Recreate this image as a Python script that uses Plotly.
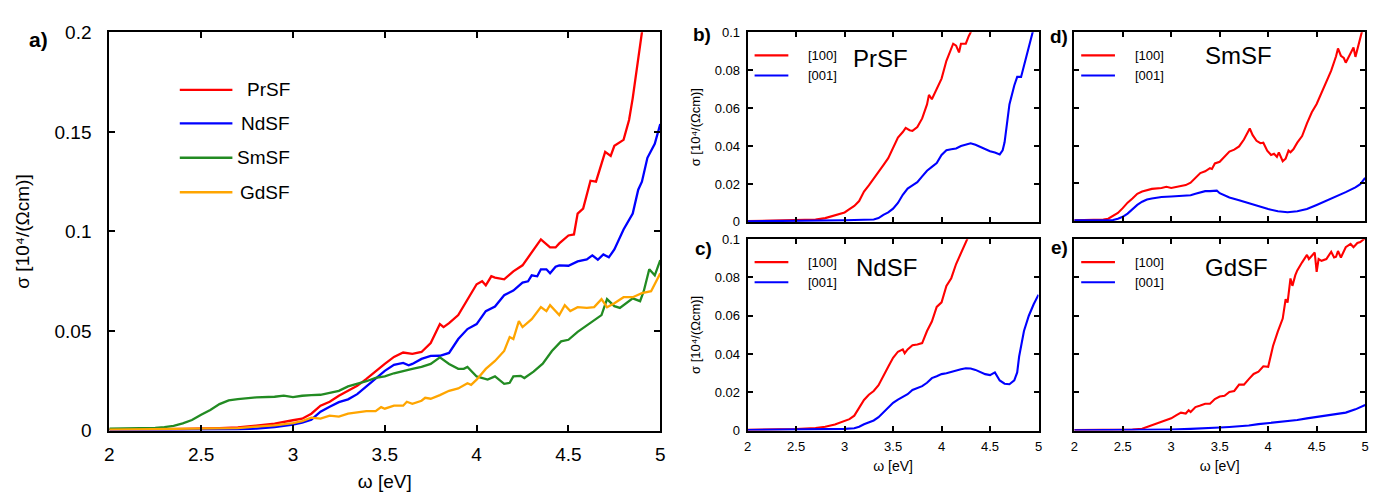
import plotly.graph_objects as go

W, H = 1381, 492

# ---------------- data ----------------
x_tick_vals = [2, 2.5, 3, 3.5, 4, 4.5, 5]
x_tick_text = ["2", "2.5", "3", "3.5", "4", "4.5", "5"]
ya_tick_vals = [0, 0.05, 0.1, 0.15, 0.2]
ya_tick_text = ["0", "0.05", "0.1", "0.15", "0.2"]
yr_tick_vals = [0, 0.02, 0.04, 0.06, 0.08, 0.1]
yr_tick_text = ["0", "0.02", "0.04", "0.06", "0.08", "0.1"]

compounds = ["PrSF", "NdSF", "SmSF", "GdSF"]
directions = ["[100]", "[001]"]
panel_letters = ["a)", "b)", "c)", "d)", "e)"]
y_title_text = "σ [10⁴/(Ωcm)]"
x_title_text = "ω [eV]"

prsf_x = [2.0, 2.2, 2.4, 2.6, 2.7, 2.8, 2.9, 3.0, 3.05, 3.1, 3.15, 3.2, 3.25, 3.3, 3.35, 3.4, 3.45, 3.5, 3.55, 3.6,
          3.65, 3.7, 3.75, 3.8, 3.82, 3.85, 3.9, 3.95, 4.0, 4.03, 4.05, 4.08, 4.1, 4.15, 4.2, 4.25, 4.3, 4.35, 4.4,
          4.43, 4.45, 4.5, 4.53, 4.55, 4.58, 4.6, 4.62, 4.65, 4.68, 4.7, 4.73, 4.75, 4.8, 4.83, 4.85, 4.88, 4.9, 4.95]
prsf_y = [0.0005, 0.0006, 0.0008, 0.0012, 0.0016, 0.0025, 0.0035, 0.0052, 0.006, 0.0085, 0.0125, 0.0145, 0.0175,
          0.020, 0.0225, 0.026, 0.030, 0.0335, 0.037, 0.0392, 0.0385, 0.0395, 0.044, 0.0535, 0.052, 0.054, 0.058,
          0.066, 0.0735, 0.075, 0.073, 0.0775, 0.0768, 0.076, 0.080, 0.083, 0.0895, 0.096, 0.092, 0.092, 0.094,
          0.098, 0.0985, 0.109, 0.1115, 0.118, 0.1255, 0.125, 0.1335, 0.140, 0.138, 0.143, 0.146, 0.156, 0.167,
          0.186, 0.200, 0.26]

ndsf_x = [2.0, 2.4, 2.7, 2.8, 2.9, 3.0, 3.05, 3.1, 3.15, 3.2, 3.25, 3.3, 3.35, 3.4, 3.45, 3.5, 3.55, 3.6, 3.63,
          3.65, 3.7, 3.75, 3.8, 3.85, 3.9, 3.95, 4.0, 4.05, 4.1, 4.15, 4.2, 4.25, 4.28, 4.3, 4.33, 4.35, 4.38, 4.4,
          4.43, 4.45, 4.5, 4.55, 4.6, 4.63, 4.66, 4.69, 4.72, 4.75, 4.8, 4.85, 4.88, 4.9, 4.93, 4.97, 5.0]
ndsf_y = [0.0002, 0.0003, 0.0006, 0.001, 0.0018, 0.003, 0.004, 0.0055, 0.0095, 0.012, 0.0143, 0.0157, 0.0183,
          0.0222, 0.026, 0.030, 0.033, 0.034, 0.0328, 0.0335, 0.036, 0.0375, 0.0376, 0.039, 0.046, 0.051, 0.0535,
          0.060, 0.0623, 0.068, 0.0703, 0.0743, 0.075, 0.078, 0.0775, 0.081, 0.081, 0.079, 0.0823, 0.083, 0.0828,
          0.085, 0.086, 0.088, 0.0858, 0.0885, 0.087, 0.091, 0.101, 0.109, 0.121, 0.125, 0.137, 0.144, 0.154]

smsf_x = [2.0, 2.1, 2.2, 2.25, 2.3, 2.35, 2.4, 2.45, 2.5, 2.55, 2.6, 2.65, 2.7, 2.75, 2.8, 2.9, 2.95, 3.0, 3.05,
          3.1, 3.15, 3.2, 3.25, 3.3, 3.35, 3.4, 3.45, 3.5, 3.55, 3.6, 3.65, 3.7, 3.75, 3.8, 3.83, 3.85, 3.9, 3.93,
          3.95, 4.0, 4.06, 4.1, 4.15, 4.18, 4.2, 4.24, 4.26, 4.31, 4.36, 4.41, 4.46, 4.5, 4.55, 4.6, 4.64, 4.68,
          4.71, 4.75, 4.78, 4.85, 4.89, 4.91, 4.94, 4.97, 5.0]
smsf_y = [0.001, 0.001, 0.0011, 0.0013, 0.0017, 0.0024, 0.0036, 0.0053, 0.008, 0.0104, 0.0133, 0.0152, 0.0158,
          0.0163, 0.0167, 0.017, 0.0176, 0.0168, 0.0175, 0.0178, 0.018, 0.019, 0.020, 0.0222, 0.0235, 0.0248,
          0.0265, 0.0272, 0.0288, 0.030, 0.031, 0.032, 0.0335, 0.0368, 0.035, 0.0335, 0.031, 0.031, 0.032, 0.0272,
          0.0256, 0.0272, 0.0235, 0.024, 0.0272, 0.0275, 0.0264, 0.0296, 0.0336, 0.040, 0.0448, 0.0456, 0.0496,
          0.0528, 0.055, 0.058, 0.066, 0.0625, 0.0616, 0.0664, 0.065, 0.070, 0.081, 0.078, 0.0856]

gdsf_x = [2.0, 2.4, 2.7, 2.8, 2.9, 3.0, 3.05, 3.1, 3.15, 3.2, 3.25, 3.3, 3.35, 3.4, 3.45, 3.48, 3.5, 3.55, 3.6,
          3.62, 3.65, 3.7, 3.72, 3.75, 3.8, 3.85, 3.9, 3.95, 3.97, 4.0, 4.05, 4.1, 4.15, 4.18, 4.2, 4.23, 4.25,
          4.3, 4.35, 4.38, 4.4, 4.45, 4.48, 4.51, 4.55, 4.6, 4.64, 4.68, 4.71, 4.75, 4.8, 4.85, 4.9, 4.95, 5.0]
gdsf_y = [0.0005, 0.0007, 0.0012, 0.002, 0.0026, 0.0038, 0.0048, 0.0065, 0.006, 0.0075, 0.007, 0.0085, 0.009,
          0.0098, 0.0098, 0.0118, 0.011, 0.0125, 0.0125, 0.0145, 0.0135, 0.015, 0.0165, 0.016, 0.0178, 0.020,
          0.0212, 0.0238, 0.023, 0.0256, 0.031, 0.035, 0.040, 0.047, 0.046, 0.055, 0.052, 0.056, 0.062, 0.060,
          0.063, 0.058, 0.063, 0.060, 0.062, 0.0616, 0.062, 0.066, 0.062, 0.064, 0.067, 0.067, 0.069, 0.070, 0.079]

pr100_x = [2.0, 2.3, 2.5, 2.7, 2.8, 2.9, 3.0, 3.05, 3.1, 3.15, 3.2, 3.25, 3.3, 3.35, 3.4, 3.45, 3.5, 3.55, 3.6,
           3.63, 3.67, 3.7, 3.75, 3.8, 3.85, 3.87, 3.9, 3.95, 4.0, 4.05, 4.1, 4.12, 4.15, 4.18, 4.2, 4.25, 4.28,
           4.3, 4.35]
pr100_y = [0.0004, 0.0006, 0.0008, 0.0012, 0.002, 0.0034, 0.005, 0.0067, 0.0084, 0.011, 0.016, 0.0193, 0.0227,
           0.026, 0.030, 0.0336, 0.0395, 0.0445, 0.0474, 0.0496, 0.0484, 0.048, 0.050, 0.0546, 0.062, 0.067,
           0.0647, 0.0706, 0.0756, 0.085, 0.091, 0.094, 0.093, 0.0894, 0.094, 0.094, 0.098, 0.100, 0.112]
pr001_x = [2.0, 2.5, 3.0, 3.3, 3.35, 3.4, 3.45, 3.5, 3.55, 3.6, 3.65, 3.7, 3.75, 3.8, 3.85, 3.9, 3.95, 4.0, 4.05,
           4.1, 4.15, 4.2, 4.25, 4.3, 4.35, 4.4, 4.45, 4.5, 4.55, 4.6, 4.63, 4.65, 4.68, 4.7, 4.75, 4.78, 4.82,
           4.85, 4.9, 4.95, 5.0]
pr001_y = [0.0003, 0.0005, 0.0009, 0.0013, 0.002, 0.0037, 0.005, 0.007, 0.010, 0.0143, 0.0176, 0.0193, 0.021,
           0.024, 0.027, 0.029, 0.031, 0.0353, 0.0378, 0.0383, 0.0387, 0.040, 0.0407, 0.0415, 0.0407, 0.0395,
           0.0383, 0.0373, 0.0366, 0.0356, 0.0378, 0.042, 0.054, 0.062, 0.072, 0.0765, 0.0765, 0.082, 0.0916,
           0.100, 0.112]

nd100_x = [2.0, 2.3, 2.5, 2.7, 2.8, 2.9, 3.0, 3.05, 3.1, 3.15, 3.2, 3.25, 3.3, 3.35, 3.4, 3.45, 3.5, 3.55, 3.6,
           3.62, 3.65, 3.7, 3.75, 3.8, 3.85, 3.9, 3.95, 4.0, 4.05, 4.1, 4.15, 4.2, 4.25, 4.3]
nd100_y = [0.0004, 0.0006, 0.0008, 0.0013, 0.002, 0.0032, 0.0053, 0.006, 0.0078, 0.012, 0.016, 0.0187, 0.0207,
           0.0237, 0.029, 0.0334, 0.038, 0.0412, 0.0424, 0.0404, 0.0424, 0.0446, 0.045, 0.0457, 0.052, 0.057,
           0.0646, 0.067, 0.0755, 0.0796, 0.087, 0.0925, 0.0988, 0.104]
nd001_x = [2.0, 2.5, 3.0, 3.1, 3.15, 3.2, 3.25, 3.3, 3.35, 3.4, 3.45, 3.5, 3.55, 3.6, 3.65, 3.7, 3.75, 3.8, 3.85,
           3.9, 3.95, 4.0, 4.05, 4.1, 4.15, 4.2, 4.25, 4.3, 4.35, 4.4, 4.45, 4.5, 4.55, 4.6, 4.65, 4.7, 4.75,
           4.78, 4.8, 4.85, 4.9, 4.95, 5.0]
nd001_y = [0.0003, 0.0005, 0.0009, 0.0012, 0.002, 0.0033, 0.0045, 0.0053, 0.007, 0.0095, 0.012, 0.0145, 0.0162,
           0.0174, 0.019, 0.0212, 0.022, 0.0232, 0.025, 0.0274, 0.0284, 0.0295, 0.030, 0.0307, 0.0317, 0.032,
           0.0326, 0.0324, 0.0317, 0.0307, 0.0295, 0.029, 0.0304, 0.0262, 0.0245, 0.0242, 0.0262, 0.0304, 0.0387,
           0.052, 0.060, 0.066, 0.071]

sm100_x = [2.0, 2.2, 2.3, 2.35, 2.4, 2.45, 2.5, 2.55, 2.6, 2.65, 2.7, 2.75, 2.8, 2.9, 2.95, 3.0, 3.05, 3.1, 3.15,
           3.2, 3.25, 3.3, 3.35, 3.4, 3.42, 3.45, 3.5, 3.55, 3.6, 3.65, 3.7, 3.75, 3.81, 3.84, 3.88, 3.92, 3.95,
           3.99, 4.03, 4.06, 4.09, 4.11, 4.15, 4.18, 4.21, 4.23, 4.26, 4.3, 4.35, 4.4, 4.45, 4.5, 4.55, 4.6, 4.65,
           4.7, 4.72, 4.75, 4.78, 4.8, 4.85, 4.88, 4.9, 4.93, 4.97]
sm100_y = [0.0004, 0.0005, 0.0007, 0.0012, 0.0025, 0.0042, 0.0068, 0.0097, 0.0119, 0.0144, 0.0156, 0.0164, 0.017,
           0.0175, 0.0181, 0.0175, 0.0181, 0.0186, 0.019, 0.0203, 0.0229, 0.0254, 0.0263, 0.028, 0.0276, 0.0305,
           0.0314, 0.034, 0.0368, 0.0378, 0.0395, 0.0432, 0.049, 0.0455, 0.0425, 0.0412, 0.0415, 0.0373, 0.035,
           0.0356, 0.034, 0.0364, 0.0317, 0.033, 0.0373, 0.0364, 0.038, 0.0415, 0.045, 0.0517, 0.0576, 0.062,
           0.0678, 0.0737, 0.0797, 0.0873, 0.0915, 0.0876, 0.0864, 0.0839, 0.089, 0.092, 0.087, 0.093, 0.101]
sm001_x = [2.0, 2.3, 2.4, 2.45, 2.5, 2.55, 2.6, 2.65, 2.7, 2.75, 2.8, 2.9, 3.0, 3.1, 3.2, 3.25, 3.3, 3.35, 3.4,
           3.47, 3.5, 3.55, 3.6, 3.7, 3.8, 3.9, 4.0, 4.1, 4.2, 4.3, 4.4, 4.5, 4.6, 4.7, 4.8, 4.9, 4.95, 5.0]
sm001_y = [0.0003, 0.0004, 0.0005, 0.0012, 0.0022, 0.0039, 0.0063, 0.0085, 0.0102, 0.0114, 0.0119, 0.0127, 0.013,
           0.0132, 0.0136, 0.0144, 0.0153, 0.0158, 0.0158, 0.0161, 0.0147, 0.0136, 0.0124, 0.011, 0.0093, 0.0076,
           0.0063, 0.0051, 0.0046, 0.0051, 0.0063, 0.0085, 0.0107, 0.013, 0.0153, 0.0178, 0.0195, 0.0229]

gd100_x = [2.0, 2.3, 2.6, 2.7, 2.8, 2.9, 3.0, 3.05, 3.1, 3.15, 3.18, 3.2, 3.25, 3.3, 3.35, 3.4, 3.45, 3.5, 3.55,
           3.6, 3.65, 3.7, 3.75, 3.8, 3.85, 3.9, 3.95, 4.0, 4.05, 4.1, 4.15, 4.18, 4.2, 4.23, 4.25, 4.28, 4.3,
           4.35, 4.4, 4.42, 4.45, 4.48, 4.5, 4.52, 4.55, 4.6, 4.65, 4.68, 4.7, 4.72, 4.75, 4.8, 4.85, 4.88, 4.92,
           4.95, 5.0]
gd100_y = [0.0003, 0.0004, 0.0006, 0.001, 0.0027, 0.0047, 0.0064, 0.008, 0.0094, 0.0089, 0.0106, 0.0097, 0.0123,
           0.0131, 0.014, 0.014, 0.0165, 0.0178, 0.0182, 0.0202, 0.0207, 0.024, 0.024, 0.0269, 0.0296, 0.0308,
           0.0336, 0.0333, 0.0442, 0.0518, 0.0585, 0.0686, 0.0669, 0.0795, 0.0756, 0.0812, 0.0837, 0.0879, 0.0918,
           0.0896, 0.0913, 0.093, 0.0829, 0.0896, 0.0887, 0.0896, 0.0934, 0.0904, 0.0908, 0.0938, 0.0904, 0.0958,
           0.0975, 0.0958, 0.098, 0.0985, 0.1005]
gd001_x = [2.0, 2.5, 3.0, 3.2, 3.4, 3.5, 3.6, 3.7, 3.8, 3.9, 4.0, 4.1, 4.2, 4.3, 4.4, 4.5, 4.6, 4.7, 4.8, 4.9, 5.0]
gd001_y = [0.0002, 0.0003, 0.0006, 0.0009, 0.0012, 0.0016, 0.0019, 0.0022, 0.0027, 0.0034, 0.0039, 0.0045, 0.005,
           0.0055, 0.0064, 0.0072, 0.0081, 0.0089, 0.0094, 0.0111, 0.0134]

# ---------------- style ----------------
RED, BLUE, GREEN, ORANGE = "#ff0000", "#0000ff", "#228b22", "#ffa500"
compound_colors = [RED, BLUE, GREEN, ORANGE]
dir_colors = [RED, BLUE]
SANS = "Liberation Sans, Arial, sans-serif"

def px(x):
    return x / W

def py(y):
    return 1 - y / H

# panel frames in pixels: (left, right, top, bottom)
frames = {
    "a": (97, 652, 15, 431),
    "b": (740, 1033, 15, 213),
    "c": (740, 1033, 231, 431),
    "d": (1069, 1362, 15, 212),
    "e": (1069, 1362, 231, 431),
}

fig = go.Figure()

panel_keys = ["a", "b", "c", "d", "e"]
axis_ids = {k: ("" if i == 0 else str(i + 1)) for i, k in enumerate(panel_keys)}

# panel a traces
for name, xs, ys, col in zip(compounds, [prsf_x, ndsf_x, smsf_x, gdsf_x],
                             [prsf_y, ndsf_y, smsf_y, gdsf_y], compound_colors):
    fig.add_trace(go.Scatter(x=xs, y=ys, mode="lines", name=name, showlegend=False,
                             line=dict(color=col, width=2.3), xaxis="x", yaxis="y"))

# panels b-e traces
panel_series = {
    "b": [(pr100_x, pr100_y), (pr001_x, pr001_y)],
    "c": [(nd100_x, nd100_y), (nd001_x, nd001_y)],
    "d": [(sm100_x, sm100_y), (sm001_x, sm001_y)],
    "e": [(gd100_x, gd100_y), (gd001_x, gd001_y)],
}
panel_compound = {"b": compounds[0], "c": compounds[1], "d": compounds[2], "e": compounds[3]}
for k, series in panel_series.items():
    aid = axis_ids[k]
    for d, (xs, ys), col in zip(directions, series, dir_colors):
        fig.add_trace(go.Scatter(x=xs, y=ys, mode="lines", name=panel_compound[k] + " " + d,
                                 showlegend=False, line=dict(color=col, width=2.1),
                                 xaxis="x" + aid, yaxis="y" + aid))

layout = dict(width=W, height=H, margin=dict(l=0, r=0, t=0, b=0),
              paper_bgcolor="white", plot_bgcolor="white", showlegend=False,
              font=dict(family=SANS, color="black"))

for k in panel_keys:
    l, r, t, b = frames[k]
    aid = axis_ids[k]
    big = (k == "a")
    fs = 19 if big else 13
    show_x = k in ("a", "c", "e")
    show_y = k in ("a", "b", "c")
    xa = dict(domain=[px(l), px(r)], anchor="y" + aid, range=[2, 5],
              tickvals=x_tick_vals, ticktext=x_tick_text, showticklabels=show_x,
              ticks="inside", ticklen=6 if big else 5, tickwidth=1.5, tickcolor="black",
              showline=True, linecolor="black", linewidth=2, mirror="ticks",
              showgrid=False, zeroline=False, tickfont=dict(size=fs, family=SANS),
              ticklabelstandoff=6 if big else 3)
    if show_x:
        xa["title"] = dict(text=x_title_text, font=dict(size=19 if big else 14, family=SANS),
                           standoff=10 if big else 8)
    ya = dict(domain=[py(b), py(t)], anchor="x" + aid,
              range=[0, 0.2] if big else [0, 0.1],
              tickvals=ya_tick_vals if big else yr_tick_vals,
              ticktext=ya_tick_text if big else yr_tick_text, showticklabels=show_y,
              ticks="inside", ticklen=6 if big else 5, tickwidth=1.5, tickcolor="black",
              showline=True, linecolor="black", linewidth=2, mirror="ticks",
              showgrid=False, zeroline=False, tickfont=dict(size=fs, family=SANS),
              ticklabelstandoff=12 if big else 3)
    if show_y:
        ya["title"] = dict(text=y_title_text, font=dict(size=19 if big else 13, family=SANS),
                           standoff=20 if big else 11)
    layout["xaxis" + aid] = xa
    layout["yaxis" + aid] = ya

fig.update_layout(**layout)

shapes = []
annotations = []

# panel letters
letter_pos = {"a": (26, 22, 21), "b": (694, 17, 19), "c": (696, 241, 19), "d": (1054, 19, 19),
              "e": (1054, 240, 19)}
for k, letter in zip(panel_keys, panel_letters):
    x, y, s = letter_pos[k]
    annotations.append(dict(text="<b>%s</b>" % letter, x=px(x), y=py(y), xref="paper", yref="paper",
                            xanchor="center", yanchor="middle", showarrow=False,
                            font=dict(size=s, family=SANS, color="black")))

# legend of panel a
leg_rows = [75, 110, 146, 182]
for name, col, yy in zip(compounds, compound_colors, leg_rows):
    shapes.append(dict(type="line", xref="paper", yref="paper", x0=px(168), x1=px(221),
                       y0=py(yy), y1=py(yy), line=dict(color=col, width=2.3)))
    annotations.append(dict(text=name, x=px(281), y=py(yy), xref="paper", yref="paper",
                            xanchor="right", yanchor="middle", showarrow=False,
                            font=dict(size=19, family=SANS, color="black")))

# legends of panels b-e
name_pos = {"b": (874, 42), "c": (880, 261), "d": (1234, 39), "e": (1232, 261)}
for k in ["b", "c", "d", "e"]:
    l, r, t, b = frames[k]
    for d, col, dy in zip(directions, dir_colors, [24, 45]):
        shapes.append(dict(type="line", xref="paper", yref="paper", x0=px(l + 7), x1=px(l + 41),
                           y0=py(t + dy), y1=py(t + dy), line=dict(color=col, width=2.1)))
        annotations.append(dict(text=d, x=px(l + 59), y=py(t + dy), xref="paper", yref="paper",
                                xanchor="left", yanchor="middle", showarrow=False,
                                font=dict(size=13, family=SANS, color="black")))
    nx, ny = name_pos[k]
    annotations.append(dict(text=panel_compound[k], x=px(nx), y=py(ny), xref="paper", yref="paper",
                            xanchor="center", yanchor="middle", showarrow=False,
                            font=dict(size=24, family=SANS, color="black")))

fig.update_layout(shapes=shapes, annotations=annotations)
fig.write_html("out.html")
